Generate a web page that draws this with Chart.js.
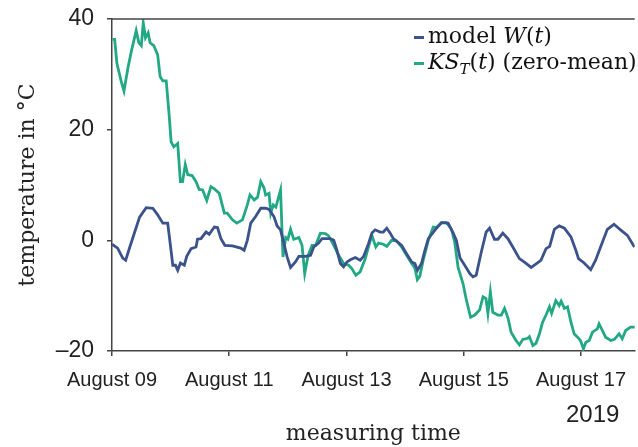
<!DOCTYPE html>
<html>
<head>
<meta charset="utf-8">
<title>Temperature</title>
<script src="https://cdn.jsdelivr.net/npm/chart.js@4.4.0/dist/chart.umd.min.js"></script>
<style>
  body { margin: 0; background: #fff; }
  #wrap { position: relative; width: 638px; height: 447px; }
  #legend {
    position: absolute; left: 414px; top: 23px;
    font-family: 'DejaVu Serif', serif; font-size: 22px; color: #111;
  }
  #legend .row { height: 26px; line-height: 26px; white-space: nowrap; }
  #legend .key { display: inline-block; width: 10px; height: 3px; vertical-align: middle; margin-right: 4px; }
  #legend sub { font-size: 15px; line-height: 0; }
  #year {
    position: absolute; left: 566px; top: 400px;
    font-family: 'Liberation Sans', Arial, sans-serif; font-size: 24px; color: #222;
  }
</style>
</head>
<body>
<div id="wrap">
  <canvas id="chart" width="638" height="447"></canvas>
  <div id="legend">
    <div class="row"><span class="key" style="background:#3b528b"></span>model <i>W</i>(<i>t</i>)</div>
    <div class="row"><span class="key" style="background:#22a884"></span><i>KS</i><sub><i>T</i></sub>(<i>t</i>) (zero-mean)</div>
  </div>
  <div id="year">2019</div>
</div>
<script>
// hours since August 09, 00:00
const wHours = [0, 2.3, 4.4, 5.6, 7.3, 9.3, 11.3, 14.0, 16.7, 18.7,
  20.8, 22.8, 23.5, 24.9, 26.0, 26.9, 28.0, 29.6, 30.6, 32.4,
  34.4, 35.0, 36.4, 38.5, 39.8, 41.9, 43.2, 44.6, 46.2, 49.3,
  52.7, 54.1, 55.4, 56.8, 58.8, 60.9, 62.9, 64.3, 66.3, 67.6,
  69.0, 70.4, 71.7, 73.1, 75.1, 76.5, 79.2, 81.3, 82.6, 84.6,
  86.0, 89.4, 90.8, 92.1, 93.5, 94.8, 96.2, 97.6, 99.6, 101.6,
  103.0, 105.0, 106.4, 107.7, 109.8, 111.1, 112.5, 113.9, 115.2, 118.6,
  120.6, 122.7, 124.0, 125.1, 126.7, 128.1, 129.5, 132.3, 134.9, 137.6,
  139.7, 141.0, 142.5, 144.4, 146.5, 147.8, 149.1, 151.2, 153.2, 154.6,
  156.6, 158.0, 160.0, 162.1, 164.1, 166.8, 169.0, 171.6, 173.5, 175.6,
  177.7, 179.2, 181.1, 183.1, 185.2, 187.9, 189.9, 191.0, 193.3, 196.0,
  198.0, 200.8, 202.8, 205.5, 208.2, 211.0, 213.9];
const wTemp = [-0.7, -1.4, -3.2, -3.6, -1.2, 1.5, 4.2, 5.9, 5.8, 4.6,
  3.1, 3.1, 0.6, -4.5, -4.5, -5.4, -4.1, -4.5, -2.9, -1.5,
  -1.2, 0.2, 0.3, 1.5, 1.1, 2.4, 2.3, 0.3, -0.9, -1.0,
  -1.4, -1.8, 0.0, 3.1, 4.3, 5.8, 5.8, 5.6, 4.3, 2.6,
  1.9, -0.6, -3.0, -4.9, -3.9, -2.9, -2.9, -2.7, -1.2, -0.5,
  0.3, 0.3, 0.0, -1.8, -4.2, -4.8, -3.9, -3.5, -3.1, -3.6,
  -2.9, -0.6, 1.3, 1.9, 1.5, 1.5, 2.2, 1.3, 0.3, -0.9,
  -2.4, -3.9, -4.2, -5.4, -4.2, -1.8, 0.3, 1.9, 3.2, 3.1,
  1.3, 0.0, -3.2, -4.5, -6.0, -6.6, -6.3, -2.1, 1.5, 2.2,
  0.2, 0.2, 1.3, 0.3, -1.2, -3.3, -4.0, -4.9, -4.3, -3.6,
  -1.5, -1.1, 2.0, 2.6, 2.2, 0.6, -1.8, -3.3, -4.1, -5.3,
  -3.6, -0.3, 2.0, 2.9, 1.9, 0.9, -1.2];

const ksHours = [0.2, 1.1, 2.0, 3.8, 4.9, 6.5, 7.9, 9.9, 11.0, 12.0,
  12.8, 13.7, 14.8, 15.6, 17.1, 18.7, 19.7, 20.8, 22.2, 23.5,
  24.2, 25.3, 26.9, 28.0, 28.9, 30.0, 31.0, 32.8, 34.4, 35.7,
  37.1, 38.8, 40.5, 41.9, 43.9, 46.0, 47.2, 49.3, 51.1, 53.4,
  55.4, 56.5, 58.2, 59.6, 60.9, 62.2, 62.9, 64.3, 65.0, 66.0,
  67.1, 69.0, 70.0, 71.1, 72.0, 73.1, 74.4, 76.5, 77.8, 78.9,
  80.3, 81.9, 83.4, 85.3, 87.4, 88.7, 90.8, 92.8, 94.8, 96.9,
  98.2, 99.8, 101.6, 103.7, 105.0, 106.4, 108.0, 109.1, 111.1, 112.5,
  114.5, 116.5, 118.6, 120.6, 122.7, 124.0, 125.0, 126.0, 127.4, 129.5,
  131.5, 132.8, 134.9, 136.9, 139.0, 140.3, 141.7, 143.7, 145.1, 146.8,
  148.5, 150.5, 151.9, 153.1, 153.9, 154.9, 155.9, 158.0, 159.4, 160.7,
  162.1, 163.4, 165.4, 166.8, 168.2, 170.2, 170.9, 172.3, 173.6, 175.0,
  176.3, 177.7, 179.1, 180.0, 181.7, 183.1, 183.9, 185.2, 186.5, 187.9,
  189.2, 190.6, 191.8, 193.0, 194.0, 195.4, 196.7, 198.7, 199.4, 200.8,
  202.1, 204.2, 205.7, 207.6, 208.9, 210.3, 212.3, 214.2];
const ksTemp = [36.3, 36.3, 32.0, 28.7, 27.0, 31.1, 34.1, 37.9, 35.7, 35.2,
  39.3, 36.6, 37.5, 35.7, 35.2, 33.5, 29.6, 28.8, 28.8, 22.1,
  17.8, 16.9, 17.5, 10.6, 10.6, 13.7, 11.9, 11.7, 10.6, 9.2,
  9.1, 7.2, 9.7, 9.3, 8.5, 4.9, 4.9, 3.7, 3.1, 3.7,
  6.4, 8.2, 7.3, 7.8, 10.6, 9.5, 8.2, 8.5, 4.9, 6.4,
  6.0, 9.1, -3.0, 0.5, 0.2, 2.0, 0.2, 0.5, -0.9, -6.0,
  -2.7, -0.9, -0.9, 1.3, 1.2, 0.8, -0.9, -2.7, -4.2, -4.5,
  -5.1, -6.3, -5.7, -3.3, -1.2, 0.9, -1.2, -0.5, -0.7, -1.1,
  0.0, -0.1, -1.2, -2.7, -4.2, -5.0, -7.1, -6.5, -3.6, 0.0,
  2.4, 2.3, 3.2, 3.2, 2.0, -0.3, -4.9, -7.8, -10.8, -13.9,
  -13.5, -12.6, -10.2, -10.5, -13.2, -9.3, -13.0, -13.5, -13.5, -12.3,
  -14.0, -16.6, -18.1, -18.9, -17.9, -17.7, -17.4, -19.0, -18.6, -16.9,
  -14.8, -13.5, -12.0, -13.2, -10.9, -11.8, -11.0, -12.3, -12.0, -14.8,
  -16.9, -17.5, -18.1, -19.6, -18.4, -18.1, -16.6, -16.0, -15.1, -16.3,
  -17.5, -18.1, -17.9, -16.9, -17.8, -16.3, -15.7, -15.7];

const tickHours = [0, 48, 96, 144, 192];
const tempTicks = [-20, 0, 20, 40];

const axisColor = '#444';
const tickFont = { family: "'Liberation Sans', Arial, sans-serif", size: 23 };

// frame line along the top of the plot
const topLine = {
  id: 'topLine',
  afterDraw(chart) {
    const { ctx, chartArea } = chart;
    ctx.save();
    ctx.strokeStyle = axisColor;
    ctx.lineWidth = 1.5;
    ctx.beginPath();
    ctx.moveTo(chartArea.left, chartArea.top);
    ctx.lineTo(chartArea.right, chartArea.top);
    ctx.stroke();
    ctx.restore();
  }
};

function toPoints(xs, ys) {
  return xs.map((x, i) => ({ x: x, y: ys[i] }));
}

new Chart(document.getElementById('chart'), {
  type: 'line',
  data: {
    datasets: [{
      label: 'model W(t)',
      data: toPoints(wHours, wTemp),
      borderColor: '#3b528b',
      borderWidth: 2.8,
      pointRadius: 0,
      tension: 0
    }, {
      label: 'KS_T(t) (zero-mean)',
      data: toPoints(ksHours, ksTemp),
      borderColor: '#22a884',
      borderWidth: 2.8,
      pointRadius: 0,
      tension: 0
    }]
  },
  options: {
    responsive: false,
    animation: false,
    layout: { padding: { top: 0, right: 0, bottom: 0, left: 0 } },
    plugins: {
      legend: { display: false },
      tooltip: { enabled: false }
    },
    scales: {
      x: {
        type: 'linear',
        min: 0,
        max: 214,
        afterBuildTicks: s => { s.ticks = tickHours.map(v => ({ value: v })); },
        afterFit: s => { s.height = 96; },
        grid: { drawOnChartArea: false, drawTicks: true, tickLength: 5, color: axisColor, lineWidth: 1.5 },
        border: { color: axisColor, width: 1.5 },
        ticks: {
          font: { family: tickFont.family, size: 20 },
          color: '#222',
          padding: 12,
          maxRotation: 0,
          callback: v => 'August ' + String(9 + v / 24).padStart(2, '0')
        },
        title: {
          display: true,
          text: 'measuring time',
          font: { family: "'DejaVu Serif', serif", size: 22 },
          color: '#222',
          padding: { top: 0, bottom: 0 }
        }
      },
      y: {
        min: -20,
        max: 40,
        afterBuildTicks: s => { s.ticks = tempTicks.map(v => ({ value: v })); },
        afterFit: s => { s.width = 112; s.paddingTop = 19; s.paddingBottom = 10; },
        grid: { drawOnChartArea: false, drawTicks: true, tickLength: 5, color: axisColor, lineWidth: 1.5 },
        border: { color: axisColor, width: 1.5 },
        ticks: {
          font: tickFont,
          color: '#222',
          padding: 13,
          callback: v => v < 0 ? '\u2013' + Math.abs(v) : String(v)
        },
        title: {
          display: true,
          text: 'temperature in \u00b0C',
          font: { family: "'DejaVu Serif', serif", size: 22 },
          color: '#222',
          padding: { top: 15, bottom: 0 }
        }
      }
    }
  },
  plugins: [topLine]
});
</script>
</body>
</html>
